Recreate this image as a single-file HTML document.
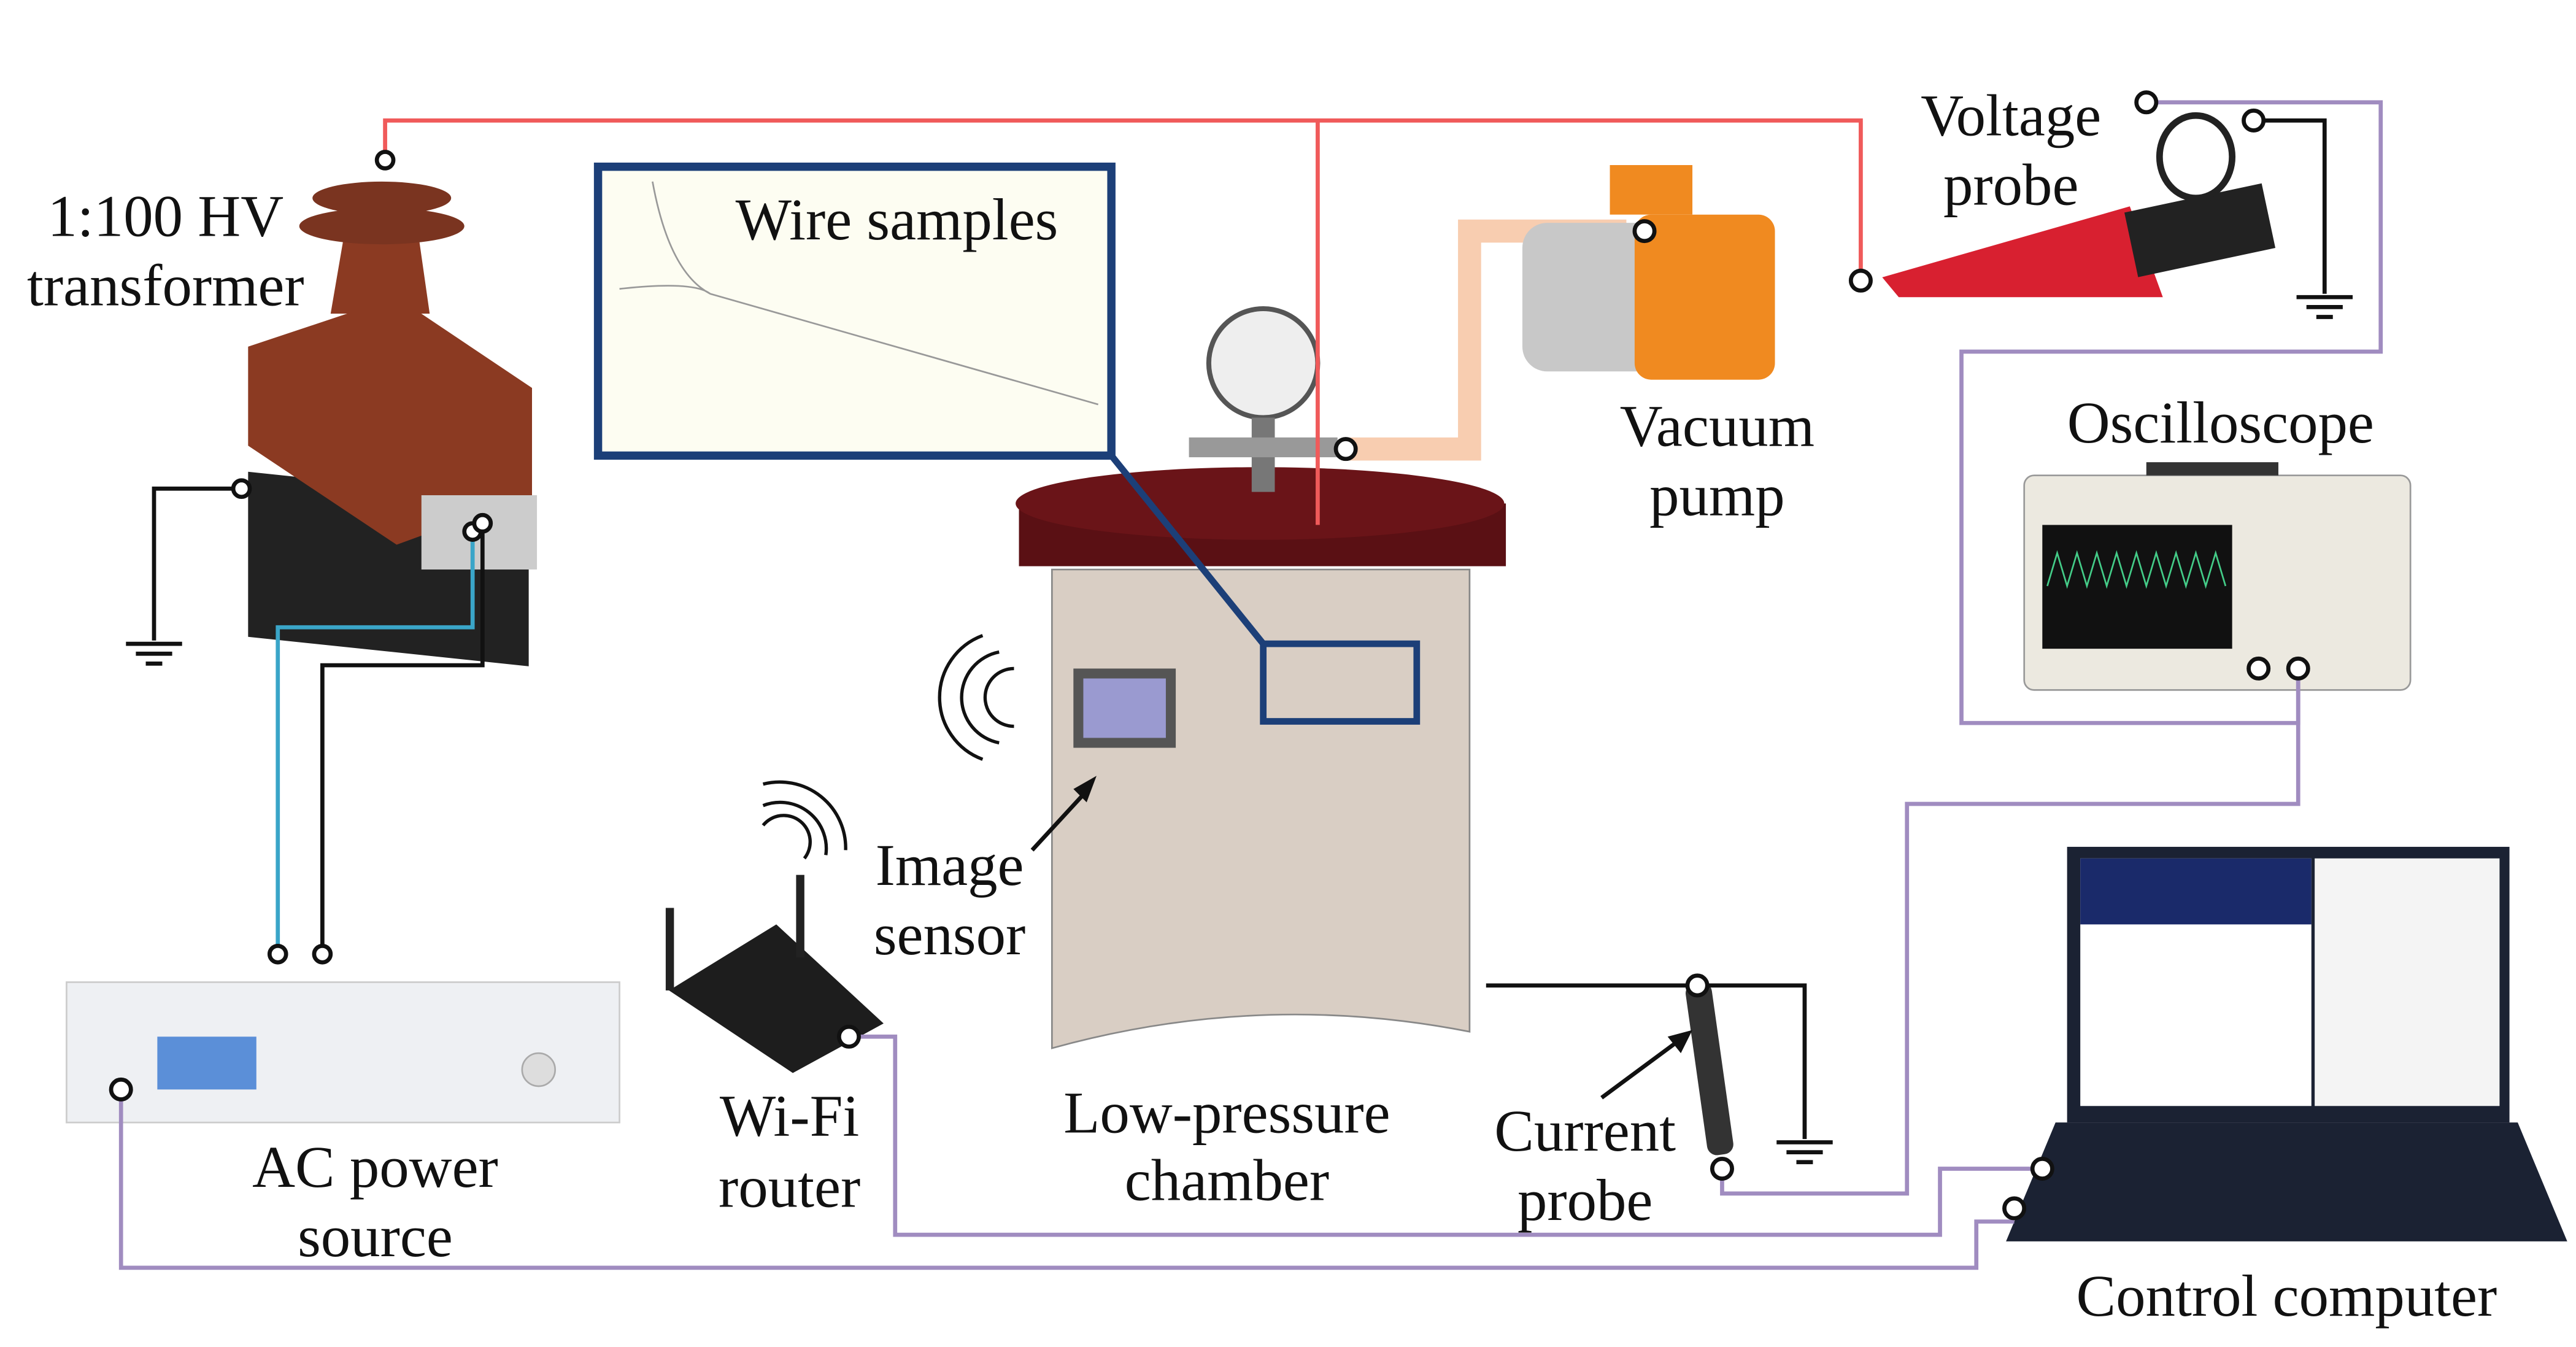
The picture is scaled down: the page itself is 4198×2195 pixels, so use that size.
<!DOCTYPE html>
<html><head><meta charset="utf-8">
<style>
html,body{margin:0;padding:0;background:#fff;}
svg{display:block;}
text{font-family:"Liberation Serif",serif;font-size:36px;fill:#111;text-anchor:middle;}
</style></head>
<body>
<svg width="4198" height="2195" viewBox="0 0 1560 816" xmlns="http://www.w3.org/2000/svg">
<rect width="1560" height="816" fill="#fff"/>
<path d="M815,272 H890 V140 H985" stroke="#f8cdb0" stroke-width="14" fill="none"/>
<!-- transformer -->
<rect x="150" y="270" width="170" height="100" fill="#222" transform="skewY(6)"/>
<polygon points="150,210 240,180 322,235 322,300 240,330 150,270" fill="#8b3a22"/>
<polygon points="200,190 260,190 250,120 212,120" fill="#8b3a22"/>
<ellipse cx="231" cy="120" rx="42" ry="10" fill="#7a3420"/>
<ellipse cx="231" cy="137" rx="50" ry="11" fill="#7a3420"/>
<rect x="255" y="300" width="70" height="45" fill="#ccc"/>
<!-- AC source -->
<rect x="40" y="595" width="335" height="85" fill="#eef0f3" stroke="#ccc"/>
<rect x="95" y="628" width="60" height="32" fill="#5b8fd8"/>
<circle cx="326" cy="648" r="10" fill="#ddd" stroke="#aaa"/>
<!-- router -->
<polygon points="405,600 470,560 535,620 480,650" fill="#1d1d1d"/>
<rect x="403" y="550" width="5" height="50" fill="#222"/>
<rect x="482" y="530" width="5" height="50" fill="#222"/>
<path d="M462,475 a40,40 0 0 1 50,40 M462,488 a28,28 0 0 1 38,30 M462,500 a16,16 0 0 1 25,20" stroke="#111" stroke-width="2" fill="none"/>
<path d="M595,385 a40,40 0 0 0 0,75 M605,395 a28,28 0 0 0 0,55 M614,405 a16,16 0 0 0 0,35" stroke="#111" stroke-width="2" fill="none"/>
<!-- chamber -->
<path d="M637,345 H890 V625 Q763,600 637,635 Z" fill="#d9cec4" stroke="#888"/>
<rect x="617" y="305" width="295" height="38" fill="#5a1014"/>
<ellipse cx="763" cy="305" rx="148" ry="22" fill="#6a1418"/>
<rect x="650" y="405" width="62" height="48" fill="#555"/>
<rect x="656" y="411" width="50" height="36" fill="#9a9ad0"/>
<path d="M625,515 L660,477" stroke="#111" stroke-width="2.5"/>
<polygon points="664,470 650,478 658,486" fill="#111"/>
<!-- gauge -->
<circle cx="765" cy="220" r="33" fill="#eee" stroke="#555" stroke-width="3"/>
<rect x="758" y="253" width="14" height="45" fill="#777"/>
<rect x="720" y="265" width="90" height="12" fill="#999"/>
<!-- wire samples -->
<line x1="673" y1="276" x2="765" y2="390" stroke="#1c3f78" stroke-width="4"/>
<rect x="362" y="101" width="311" height="175" fill="#fdfdf2" stroke="#1c3f78" stroke-width="5"/>
<path d="M375,175 Q420,170 430,178 L665,245 M395,110 Q405,165 430,178" stroke="#999" fill="none"/>
<rect x="765" y="390" width="93" height="47" fill="none" stroke="#1c3f78" stroke-width="4"/>
<!-- pump -->
<rect x="922" y="135" width="140" height="90" rx="15" fill="#c8c8c8"/>
<rect x="990" y="130" width="85" height="100" rx="10" fill="#f08a20"/>
<rect x="975" y="100" width="50" height="30" fill="#f08a20"/>
<!-- voltage probe -->
<polygon points="1140,168 1290,125 1310,180 1150,180" fill="#d82030"/>
<rect x="1290" y="120" width="85" height="40" fill="#222" transform="rotate(-12 1330 140)"/>
<ellipse cx="1330" cy="95" rx="22" ry="25" fill="none" stroke="#222" stroke-width="4"/>
<!-- oscilloscope -->
<rect x="1226" y="288" width="234" height="130" rx="6" fill="#ece9e0" stroke="#999"/>
<rect x="1237" y="318" width="115" height="75" fill="#111"/>
<path d="M1240,355 l6,-20 6,20 6,-20 6,20 6,-20 6,20 6,-20 6,20 6,-20 6,20 6,-20 6,20 6,-20 6,20 6,-20 6,20 6,-20 6,20" stroke="#4c8" fill="none"/>
<rect x="1300" y="280" width="80" height="8" fill="#333"/>
<!-- current probe -->
<rect x="1027" y="595" width="16" height="105" rx="6" fill="#333" transform="rotate(-8 1035 645)"/>
<path d="M970,665 L1020,628" stroke="#111" stroke-width="2.5"/>
<polygon points="1025,624 1010,628 1018,638" fill="#111"/>
<!-- laptop -->
<rect x="1252" y="513" width="268" height="167" fill="#1b2233"/>
<rect x="1260" y="520" width="140" height="150" fill="#fff"/>
<rect x="1260" y="520" width="140" height="40" fill="#1a2a6a"/>
<rect x="1402" y="520" width="112" height="150" fill="#f4f4f4"/>
<polygon points="1245,680 1525,680 1555,752 1215,752" fill="#1b2233"/>
<!-- wires -->
<g fill="none" stroke-width="2.5">
<path d="M233,97 V73 H1127 V170" stroke="#f05a5a"/>
<path d="M798,73 V318" stroke="#f05a5a"/>
<path d="M146,296 H93 V388" stroke="#111"/>
<path d="M286,322 V380 H168 V578" stroke="#3aa5c8"/>
<path d="M292,318 V403 H195 V578" stroke="#111"/>
<path d="M73,660 V768 H1197 V740 H1220" stroke="#a08cc0"/>
<path d="M514,628 H542 V748 H1175 V708 H1237" stroke="#a08cc0"/>
<path d="M1300,62 H1442 V213 H1188 V438 H1392 V405" stroke="#a08cc0"/>
<path d="M1392,405 V487 H1155 V723 H1043 V708" stroke="#a08cc0"/>
<path d="M1365,73 H1408 V178" stroke="#111"/>
<path d="M900,597 H1093 V690" stroke="#111"/>
</g>
<!-- grounds -->
<g stroke="#111" stroke-width="2.5">
<path d="M76,390 H110 M82,396 H104 M88,402 H98"/>
<path d="M1391,180 H1425 M1397,186 H1419 M1403,192 H1413"/>
<path d="M1076,692 H1110 M1082,698 H1104 M1088,704 H1098"/>
</g>
<!-- terminals -->
<g fill="#fff" stroke="#111" stroke-width="2.5">
<circle cx="233" cy="97" r="5"/><circle cx="146" cy="296" r="5"/>
<circle cx="286" cy="322" r="5"/><circle cx="292" cy="317" r="5"/>
<circle cx="168" cy="578" r="5"/><circle cx="195" cy="578" r="5"/>
<circle cx="73" cy="660" r="6"/><circle cx="514" cy="628" r="6"/>
<circle cx="815" cy="272" r="6"/><circle cx="996" cy="140" r="6"/>
<circle cx="1127" cy="170" r="6"/><circle cx="1300" cy="62" r="6"/>
<circle cx="1365" cy="73" r="6"/><circle cx="1368" cy="405" r="6"/>
<circle cx="1392" cy="405" r="6"/><circle cx="1028" cy="597" r="6"/>
<circle cx="1043" cy="708" r="6"/><circle cx="1237" cy="708" r="6"/>
<circle cx="1220" cy="732" r="6"/>
</g>
<!-- labels -->
<text x="100" y="143">1:100 HV</text>
<text x="100" y="185">transformer</text>
<text x="543" y="145">Wire samples</text>
<text x="1218" y="82">Voltage</text>
<text x="1218" y="124">probe</text>
<text x="1040" y="270">Vacuum</text>
<text x="1040" y="312">pump</text>
<text x="1345" y="268">Oscilloscope</text>
<text x="575" y="536">Image</text>
<text x="575" y="578">sensor</text>
<text x="478" y="688">Wi-Fi</text>
<text x="478" y="731">router</text>
<text x="743" y="686">Low-pressure</text>
<text x="743" y="727">chamber</text>
<text x="960" y="697">Current</text>
<text x="960" y="739">probe</text>
<text x="227" y="719">AC power</text>
<text x="227" y="761">source</text>
<text x="1385" y="797">Control computer</text>
</svg>
</body></html>
